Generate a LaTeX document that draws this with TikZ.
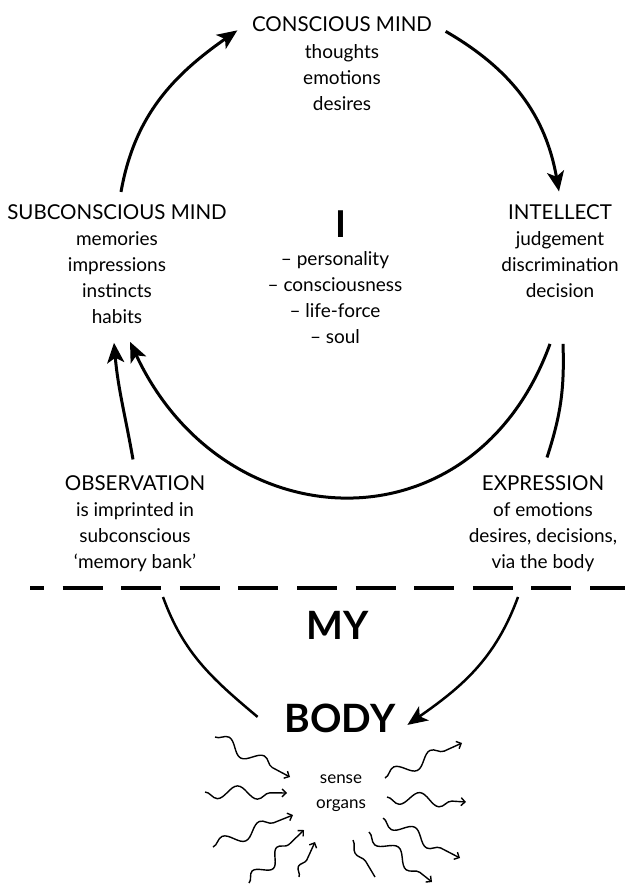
\documentclass[tikz,border=0pt]{standalone}
\usepackage{fontspec}
\setmainfont{Lato}
\usetikzlibrary{arrows.meta,positioning,decorations.pathmorphing}

\tikzset{
  heading/.style={font=\fontsize{20.5}{26}\selectfont, inner sep=0pt, anchor=base},
  items/.style={font=\fontsize{19}{26}\selectfont, align=center, inner sep=0pt},
  heavy/.style={font=\fontsize{39}{40}\selectfont\bfseries, inner sep=0pt, anchor=base},
  flow/.style={line width=3pt, -{Stealth[length=20pt, width=17pt, inset=5pt]}},
  bodyflow/.style={line width=2.5pt},
  wiggle/.style={line width=1.4pt, decorate,
    decoration={snake, amplitude=6.5pt, segment length=40pt, post length=5pt}},
  tipped/.style={-{Straight Barb[length=4pt, width=8pt]}},
}

\begin{document}
\begin{tikzpicture}[x=1pt, y=-1pt]
  \useasboundingbox (0,0) rectangle (625,885);

  % the mind
  \node[heading] (conscious) at (342,32) {CONSCIOUS MIND};
  \node[items, below=12pt of conscious] (thoughts) {thoughts\\emotions\\desires};
  \node[heading] (subconscious) at (117,219) {SUBCONSCIOUS MIND};
  \node[items, below=12pt of subconscious] (memories) {memories\\impressions\\instincts\\habits};
  \node[heading] (intellect) at (560,219) {INTELLECT};
  \node[items, below=12pt of intellect] (judgements) {judgement\\discrimination\\decision};
  \node[heavy, font=\fontsize{37}{38}\selectfont\bfseries] (self) at (341,237) {I};
  \node[items, below=14pt of self, xshift=-6pt] (aspects) {– personality\\– consciousness\\– life-force\\– soul};
  \node[heading] (observation) at (135,490) {OBSERVATION};
  \node[items, below=12pt of observation] (imprint) {is imprinted in\\subconscious\\‘memory bank’};
  \node[heading] (expression) at (543,490) {EXPRESSION};
  \node[items, below=12pt of expression] (via) {of emotions\\desires, decisions,\\via the body};

  % the body
  \node[heavy] (my) at (338,639) {MY};
  \node[heavy] (body) at (340,732) {BODY};
  \node[items, font=\fontsize{17}{25}\selectfont, anchor=north] (senses) at (341,775) {sense\\organs};

  \draw[line width=4.5pt, dash pattern=on 40pt off 18.6pt, dash phase=26pt] (30,588) -- (625,588);

  % cycle of the mind
  \draw[flow] ([shift={(4,-12)}]subconscious.north) to[out=80, in=215] ([shift={(-14.5,-2)}]conscious.south west);
  \draw[flow] ([shift={(13.5,-1)}]conscious.south east) to[out=-30, in=100] ([shift={(-1,-12.5)}]intellect.north);
  \draw[flow] ([shift={(-10,46)}]judgements.south) to[out=250, in=-65, looseness=1.35] ([shift={(13,18)}]memories.south);
  \draw[flow] ([shift={(-2,-15.5)}]observation.north) to[out=100, in=-85] ([shift={(-3,19)}]memories.south);
  \draw[line width=3pt] ([shift={(4,-17.5)}]expression.north) to[bend right=10] ([shift={(3,46)}]judgements.south);

  % through the body
  \draw[bodyflow] ([shift={(28,25)}]imprint.south) to[out=-70, in=140] ([shift={(-27,-1)}]body.west);
  \draw[bodyflow, -{Stealth[length=20pt, width=17pt, inset=5pt]}] ([shift={(-25,25)}]via.south) to[out=250, in=35] ([shift={(12,7)}]body.east);

  % senses in and out
  \draw[wiggle, tipped] (215,737) -- (290,777);
  \draw[wiggle, tipped, decoration={mirror}] (205,792) -- (287,793);
  \draw[wiggle, tipped] (213,847) -- (293,815);
  \draw[wiggle, tipped, decoration={segment length=34pt}] (249,883) -- (304,830);
  \draw[wiggle, tipped, decoration={amplitude=5pt, segment length=30pt}] (299,877) -- (315,842);
  \draw[wiggle, decoration={mirror, amplitude=5pt, segment length=40pt, post length=0pt}] (353,840) -- (375,877);
  \draw[wiggle, tipped, decoration={mirror}] (369,832) -- (432,882);
  \draw[wiggle, tipped, decoration={mirror}] (383,818) -- (460,858);
  \draw[wiggle, tipped, decoration={mirror}] (387,797) -- (466,802);
  \draw[wiggle, tipped] (385,778) -- (462,743);
\end{tikzpicture}
\end{document}
